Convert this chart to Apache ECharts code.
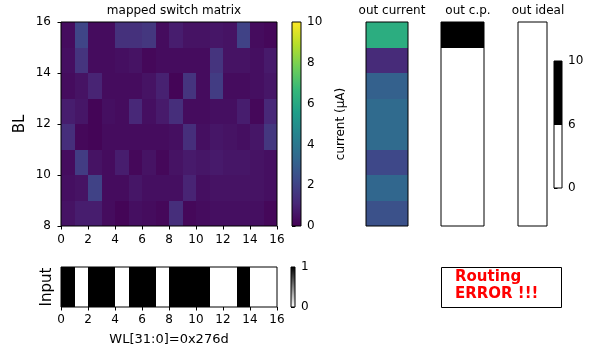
<!DOCTYPE html>
<html>
<head>
<meta charset="utf-8">
<script src="https://cdn.jsdelivr.net/npm/echarts@6/dist/echarts.min.js"></script>
<style>
  html, body { margin: 0; padding: 0; background: #fff; }
  #main { width: 595px; height: 349px; }
</style>
</head>
<body>
<div id="main"></div>
<script>
// switch matrix, rows from top (BL 15..16) to bottom (BL 8..9), 16 columns each
var rowStarts = [15, 14, 13, 12, 11, 10, 9, 8];
var matrix = [
  [0.3, 2.1, 0.3, 0.3, 1.4, 1.4, 1.6, 0.3, 0.8, 0.5, 0.5, 0.6, 0.5, 2.0, 0.3, 0.2],
  [0.4, 1.5, 0.3, 0.3, 0.4, 0.5, 0.2, 0.3, 0.3, 0.3, 0.3, 1.5, 0.5, 0.5, 0.4, 0.7],
  [0.3, 0.5, 1.0, 0.3, 0.3, 0.3, 0.5, 0.9, 0.1, 1.5, 0.3, 1.8, 0.3, 0.3, 0.4, 0.6],
  [0.8, 0.6, 0.1, 0.4, 0.3, 1.1, 0.4, 0.7, 1.3, 0.3, 0.3, 0.4, 0.4, 0.8, 0.2, 1.1],
  [1.3, 0.2, 0.1, 0.3, 0.3, 0.3, 0.3, 0.3, 0.4, 1.3, 0.4, 0.6, 0.5, 0.4, 0.6, 1.6],
  [0.3, 1.8, 0.5, 0.3, 0.8, 0.2, 0.5, 0.2, 0.5, 0.7, 0.6, 0.7, 0.6, 0.6, 0.5, 0.4],
  [0.4, 0.5, 2.0, 0.3, 0.3, 0.6, 0.4, 0.4, 0.4, 1.0, 0.4, 0.5, 0.5, 0.5, 0.5, 0.4],
  [0.5, 0.8, 0.8, 0.3, 0.1, 0.4, 0.3, 0.2, 1.3, 0.2, 0.3, 0.4, 0.4, 0.4, 0.4, 0.2]
];
var outCurrent = [6.2, 1.2, 3.1, 3.45, 3.45, 2.2, 3.3, 2.5];
var outCp = [1, 0, 0, 0, 0, 0, 0, 0];
var outIdeal = [0, 0, 0, 0, 0, 0, 0, 0];
var inputBits = [1, 0, 1, 1, 0, 1, 1, 0, 1, 1, 1, 0, 0, 1, 0, 0];
var currentRange = [0, 10];
var cpTicks = ['0', '6', '10'];
var inputRange = [0, 1];

var viridis = ['#440154', '#482878', '#3e4989', '#31688e', '#26828e',
               '#1f9e89', '#35b779', '#6ece58', '#b5de2b', '#fde725'];
var binColors = ['#ffffff', '#000000'];
var font = 'DejaVu Sans';

function hex(c) { return [parseInt(c.substr(1, 2), 16), parseInt(c.substr(3, 2), 16), parseInt(c.substr(5, 2), 16)]; }
function viridisAt(t) {
  t = Math.max(0, Math.min(1, t)) * (viridis.length - 1);
  var i = Math.min(Math.floor(t), viridis.length - 2), f = t - i;
  var a = hex(viridis[i]), b = hex(viridis[i + 1]);
  return 'rgb(' + [0, 1, 2].map(function (k) { return Math.round(a[k] + (b[k] - a[k]) * f); }).join(',') + ')';
}
function cellRect(api, x0, y0, x1, y1) {
  var a = api.coord([x0, y1]), b = api.coord([x1, y0]);
  var l = Math.round(a[0]), t = Math.round(a[1]), r = Math.round(b[0]), bt = Math.round(b[1]);
  return { x: l, y: t, width: r - l, height: bt - t };
}

var heatData = [];
matrix.forEach(function (row, i) {
  row.forEach(function (v, j) { heatData.push([j, rowStarts[i], v]); });
});
function colData(arr) { return arr.map(function (v, i) { return [0, rowStarts[i], v]; }); }

var ticks = { show: true, length: 3.5, lineStyle: { color: '#000', width: 1 } };
var lbl = { color: '#000', fontSize: 12, fontFamily: font };
function hidden(idx, min, max) {
  return { type: 'value', gridIndex: idx, min: min, max: max, show: false };
}
function frame(l, t, w, h) {
  return { left: l, top: t, width: w, height: h, show: true, z: 10,
           borderColor: '#000', borderWidth: 1, backgroundColor: 'transparent' };
}
function ttl(text, x) {
  return { text: text, left: x, top: 0, textAlign: 'center',
           textStyle: { fontSize: 12, fontWeight: 'normal', color: '#000', fontFamily: font } };
}

var option = {
  animation: false,
  textStyle: { fontFamily: font },
  title: [
    ttl('mapped switch matrix', 169),
    ttl('out current', 387),
    ttl('out c.p.', 463),
    ttl('out ideal', 533)
  ],
  grid: [
    frame(61, 22, 216, 204),
    frame(292, 22, 9, 204),
    frame(366, 22, 42, 204),
    frame(441, 22, 43, 204),
    frame(518, 22, 29, 204),
    frame(554, 61, 8, 127),
    frame(61, 267, 216, 40),
    frame(291, 267, 4, 40)
  ],
  xAxis: [
    { type: 'value', gridIndex: 0, min: 0, max: 16, interval: 2,
      axisLine: { show: false }, axisTick: ticks, splitLine: { show: false },
      axisLabel: Object.assign({ margin: 8 }, lbl) },
    hidden(1, 0, 1), hidden(2, 0, 1), hidden(3, 0, 1), hidden(4, 0, 1), hidden(5, 0, 1),
    { type: 'value', gridIndex: 6, min: 0, max: 16, interval: 2,
      axisLine: { show: false }, axisTick: ticks, splitLine: { show: false },
      axisLabel: Object.assign({ margin: 7 }, lbl),
      name: 'WL[31:0]=0x276d', nameLocation: 'middle', nameGap: 26,
      nameTextStyle: { fontSize: 13, color: '#000', fontFamily: font } },
    hidden(7, 0, 1)
  ],
  yAxis: [
    { type: 'value', gridIndex: 0, min: 8, max: 16, interval: 2,
      axisLine: { show: false }, axisTick: ticks, splitLine: { show: false },
      axisLabel: Object.assign({ margin: 10 }, lbl),
      name: 'BL', nameLocation: 'middle', nameGap: 33, nameRotate: 90,
      nameTextStyle: { fontSize: 15, color: '#000', fontFamily: font } },
    { type: 'value', gridIndex: 1, position: 'right', min: currentRange[0], max: currentRange[1], interval: 2,
      axisLine: { show: false }, axisTick: ticks, splitLine: { show: false },
      axisLabel: Object.assign({ margin: 6 }, lbl),
      name: 'current (\u03bcA)', nameLocation: 'middle', nameGap: 34, nameRotate: 90,
      nameTextStyle: { fontSize: 12, color: '#000', fontFamily: font } },
    hidden(2, 8, 16), hidden(3, 8, 16), hidden(4, 8, 16),
    { type: 'value', gridIndex: 5, position: 'right', min: 0, max: cpTicks.length - 1, interval: 1,
      axisLine: { show: false }, axisTick: ticks, splitLine: { show: false },
      axisLabel: Object.assign({ margin: 6, formatter: function (v) { return cpTicks[v]; } }, lbl) },
    { type: 'value', gridIndex: 6, min: 0, max: 1, show: true,
      axisLine: { show: false }, axisTick: { show: false }, axisLabel: { show: false }, splitLine: { show: false },
      name: 'Input', nameLocation: 'middle', nameGap: 6, nameRotate: 90,
      nameTextStyle: { fontSize: 15, color: '#000', fontFamily: font } },
    { type: 'value', gridIndex: 7, position: 'right', min: inputRange[0], max: inputRange[1], interval: 1,
      axisLine: { show: false }, axisTick: ticks, splitLine: { show: false },
      axisLabel: Object.assign({ margin: 6 }, lbl) }
  ],
  series: [
    { type: 'custom', xAxisIndex: 0, yAxisIndex: 0, data: heatData,
      renderItem: function (p, api) {
        var x = api.value(0), y = api.value(1);
        return { type: 'rect', shape: cellRect(api, x, y, x + 1, y + 1),
                 style: { fill: viridisAt(api.value(2) / currentRange[1]) } };
      } },
    { type: 'custom', xAxisIndex: 1, yAxisIndex: 1, data: [currentRange],
      renderItem: function (p, api) {
        var stops = viridis.map(function (c, i) { return { offset: i / (viridis.length - 1), color: c }; });
        return { type: 'rect', shape: cellRect(api, 0, api.value(0), 1, api.value(1)),
                 style: { fill: { type: 'linear', x: 0, y: 1, x2: 0, y2: 0, colorStops: stops } } };
      } },
    { type: 'custom', xAxisIndex: 2, yAxisIndex: 2, data: colData(outCurrent),
      renderItem: function (p, api) {
        var y = api.value(1);
        return { type: 'rect', shape: cellRect(api, 0, y, 1, y + 1),
                 style: { fill: viridisAt(api.value(2) / currentRange[1]) } };
      } },
    { type: 'custom', xAxisIndex: 3, yAxisIndex: 3, data: colData(outCp),
      renderItem: function (p, api) {
        var y = api.value(1);
        return { type: 'rect', shape: cellRect(api, 0, y, 1, y + 1), style: { fill: binColors[api.value(2)] } };
      } },
    { type: 'custom', xAxisIndex: 4, yAxisIndex: 4, data: colData(outIdeal),
      renderItem: function (p, api) {
        var y = api.value(1);
        return { type: 'rect', shape: cellRect(api, 0, y, 1, y + 1), style: { fill: binColors[api.value(2)] } };
      } },
    { type: 'custom', xAxisIndex: 5, yAxisIndex: 5,
      data: cpTicks.slice(1).map(function (t, i) { return [i, i + 1]; }),
      renderItem: function (p, api) {
        return { type: 'rect', shape: cellRect(api, 0, api.value(0), 1, api.value(1)),
                 style: { fill: binColors[api.value(0)] } };
      } },
    { type: 'custom', xAxisIndex: 6, yAxisIndex: 6,
      data: inputBits.map(function (b, i) { return [i, b]; }),
      renderItem: function (p, api) {
        var x = api.value(0);
        return { type: 'rect', shape: cellRect(api, x, 0, x + 1, 1), style: { fill: binColors[api.value(1)] } };
      } },
    { type: 'custom', xAxisIndex: 7, yAxisIndex: 7, data: [inputRange],
      renderItem: function (p, api) {
        return { type: 'rect', shape: cellRect(api, 0, api.value(0), 1, api.value(1)),
                 style: { fill: { type: 'linear', x: 0, y: 1, x2: 0, y2: 0,
                   colorStops: [{ offset: 0, color: binColors[0] }, { offset: 1, color: binColors[1] }] } } };
      } }
  ],
  graphic: [
    { type: 'rect', left: 441, top: 267, shape: { width: 120, height: 40 },
      style: { fill: '#fff', stroke: '#000', lineWidth: 1 } },
    { type: 'text', left: 455, top: 269,
      style: { text: 'Routing\nERROR !!!', fill: '#ff0000', font: 'bold 15px "DejaVu Sans"', lineHeight: 17 } }
  ]
};

var myChart = echarts.init(document.getElementById('main'));
myChart.setOption(option);
</script>
</body>
</html>
